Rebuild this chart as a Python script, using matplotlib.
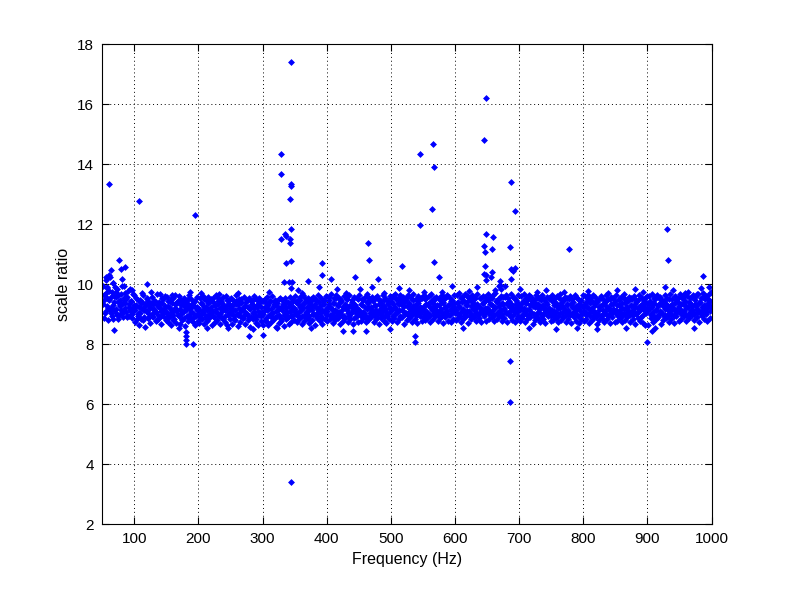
import numpy as np
import matplotlib
matplotlib.use("Agg")
import matplotlib.pyplot as plt

plt.rcParams['font.family'] = ['Liberation Sans', 'DejaVu Sans']

# ---- data ----
# dense band: frequency bins every 2 Hz (two interleaved grids), ratio values per bin
band_freq = np.arange(51, 1000, 2)
band_freq_c = np.arange(52, 1001, 2)

band_a = [
 9.35, 9.62, 9.10, 9.88, 9.21, 9.47, 9.05, 9.73, 9.30, 9.15, 9.56, 8.98, 9.41, 9.27, 9.66, 9.02, 9.38, 9.19, 9.50, 8.95, 9.33, 9.12, 9.44, 9.08, 9.25,
 9.12, 9.30, 8.95, 9.22, 9.05, 9.38, 9.18, 8.90, 9.27, 9.10, 9.42, 9.01, 9.20, 8.93, 9.33, 9.14, 9.06, 9.29, 8.97, 9.24, 9.11, 9.36, 9.03, 9.19, 9.08,
 9.05, 9.28, 8.92, 9.15, 9.36, 8.98, 9.21, 9.09, 9.40, 8.94, 9.17, 9.30, 9.02, 8.88, 9.25, 9.12, 9.34, 8.96, 9.19, 9.07, 9.31, 8.91, 9.23, 9.13, 9.00,
 9.18, 8.96, 9.33, 9.07, 9.25, 8.90, 9.14, 9.38, 9.01, 9.22, 9.10, 8.94, 9.29, 9.16, 9.04, 9.35, 8.99, 9.20, 9.09, 9.27, 8.93, 9.13, 9.31, 9.02, 9.19,
 9.03, 9.26, 8.92, 9.14, 9.32, 8.97, 9.20, 9.08, 9.37, 8.95, 9.11, 9.28, 9.00, 9.23, 8.89, 9.16, 9.34, 9.05, 9.19, 8.93, 9.30, 9.10, 8.98, 9.24, 9.06,
 9.00, 9.22, 8.88, 9.12, 9.30, 8.94, 9.17, 9.05, 9.34, 8.91, 9.09, 9.26, 8.97, 9.19, 8.86, 9.14, 9.31, 9.02, 9.21, 8.90, 9.28, 9.07, 8.95, 9.24, 9.11,
 9.16, 8.98, 9.32, 9.06, 9.25, 8.92, 9.19, 9.38, 9.03, 9.22, 9.11, 8.95, 9.29, 9.14, 9.01, 9.35, 8.99, 9.20, 9.08, 9.27, 8.93, 9.15, 9.33, 9.04, 9.18,
 9.10, 9.33, 8.96, 9.21, 9.05, 9.37, 9.13, 8.93, 9.28, 9.08, 9.40, 9.00, 9.24, 8.95, 9.31, 9.15, 9.04, 9.27, 8.99, 9.22, 9.12, 9.35, 9.02, 9.19, 9.09,
 9.14, 8.97, 9.30, 9.07, 9.25, 8.94, 9.18, 9.36, 9.02, 9.23, 9.11, 8.96, 9.29, 9.13, 9.03, 9.34, 9.00, 9.20, 9.09, 9.27, 8.95, 9.16, 9.32, 9.05, 9.21,
 9.12, 9.35, 8.98, 9.22, 9.06, 9.38, 9.15, 8.95, 9.30, 9.09, 9.41, 9.02, 9.26, 8.97, 9.33, 9.17, 9.05, 9.28, 9.00, 9.23, 9.13, 9.36, 9.04, 9.20, 9.10,
 9.16, 8.99, 9.32, 9.08, 9.27, 8.96, 9.20, 9.38, 9.04, 9.25, 9.13, 8.98, 9.31, 9.15, 9.05, 9.36, 9.02, 9.22, 9.11, 9.29, 8.97, 9.18, 9.34, 9.07, 9.23,
 9.14, 9.36, 8.99, 9.23, 9.07, 9.39, 9.16, 8.96, 9.31, 9.10, 9.42, 9.03, 9.27, 8.98, 9.34, 9.18, 9.06, 9.29, 9.01, 9.24, 9.14, 9.37, 9.05, 9.21, 9.11,
 9.17, 9.00, 9.33, 9.09, 9.28, 8.97, 9.21, 9.39, 9.05, 9.26, 9.14, 8.99, 9.32, 9.16, 9.06, 9.37, 9.03, 9.23, 9.12, 9.30, 8.98, 9.19, 9.35, 9.08, 9.24,
 9.13, 9.34, 8.97, 9.21, 9.05, 9.37, 9.14, 8.94, 9.29, 9.08, 9.40, 9.01, 9.25, 8.96, 9.32, 9.16, 9.04, 9.27, 8.99, 9.22, 9.12, 9.35, 9.03, 9.19, 9.09,
 9.15, 8.98, 9.31, 9.07, 9.26, 8.95, 9.19, 9.37, 9.03, 9.24, 9.12, 8.97, 9.30, 9.14, 9.04, 9.35, 9.01, 9.21, 9.10, 9.28, 8.96, 9.17, 9.33, 9.06, 9.22,
 9.11, 9.33, 8.96, 9.20, 9.04, 9.36, 9.13, 8.93, 9.28, 9.07, 9.39, 9.00, 9.24, 8.95, 9.31, 9.15, 9.03, 9.26, 8.98, 9.21, 9.11, 9.34, 9.02, 9.18, 9.08,
 9.14, 8.97, 9.30, 9.06, 9.25, 8.94, 9.18, 9.36, 9.02, 9.23, 9.11, 8.96, 9.29, 9.13, 9.03, 9.34, 9.00, 9.20, 9.09, 9.27, 8.95, 9.16, 9.32, 9.05, 9.21,
 9.12, 9.35, 8.98, 9.22, 9.06, 9.38, 9.15, 8.95, 9.30, 9.09, 9.41, 9.02, 9.26, 8.97, 9.33, 9.17, 9.05, 9.28, 9.00, 9.23, 9.13, 9.36, 9.04, 9.20, 9.10,
 9.18, 9.01, 9.34, 9.10, 9.29, 8.98, 9.22, 9.40, 9.06, 9.27, 9.15, 9.00, 9.33, 9.17, 9.07, 9.38, 9.04, 9.24, 9.13, 9.31, 8.99, 9.20, 9.36, 9.09, 9.25,
]

band_b = [
 9.95, 8.88, 10.12, 9.52, 8.80, 9.78, 9.20, 8.92, 10.05, 9.60, 9.02, 9.85, 8.85, 9.48, 9.13, 9.92, 8.90, 9.70, 9.06, 9.58, 8.95, 9.82, 9.17, 8.87, 9.65,
 8.72, 9.55, 9.00, 8.65, 9.48, 8.82, 9.62, 9.15, 8.58, 9.50, 8.86, 9.35, 8.70, 9.58, 8.90, 9.44, 8.78, 9.66, 8.84, 9.40, 8.68, 9.52, 8.92, 9.60, 8.80,
 9.58, 8.75, 9.45, 8.62, 9.52, 8.80, 9.65, 8.70, 9.38, 9.60, 8.66, 9.48, 8.82, 9.55, 8.60, 9.42, 8.76, 9.62, 8.85, 9.50, 8.72, 9.44, 8.64, 9.57, 8.78,
 8.70, 9.54, 8.83, 9.61, 8.66, 9.46, 8.78, 9.58, 8.88, 9.50, 8.62, 9.40, 8.74, 9.64, 8.80, 9.52, 8.68, 9.45, 8.86, 9.56, 8.72, 9.60, 8.64, 9.48, 8.82,
 9.55, 8.68, 9.44, 8.80, 9.62, 8.60, 9.50, 8.75, 9.40, 8.86, 9.58, 8.66, 9.47, 8.79, 9.53, 8.58, 9.42, 8.84, 9.60, 8.70, 9.46, 8.63, 9.52, 8.77, 9.43,
 8.65, 9.50, 8.78, 9.58, 8.62, 9.44, 8.72, 9.60, 8.82, 9.48, 8.58, 9.38, 8.70, 9.55, 8.76, 9.46, 8.60, 9.52, 8.84, 9.40, 8.68, 9.57, 8.74, 9.45, 8.80,
 9.60, 8.74, 9.48, 8.82, 9.56, 8.68, 9.62, 8.78, 9.44, 8.86, 9.54, 8.70, 9.50, 8.80, 9.58, 8.64, 9.46, 8.88, 9.64, 8.76, 9.52, 8.66, 9.42, 8.84, 9.59,
 8.76, 9.58, 8.84, 9.66, 8.70, 9.52, 8.80, 9.62, 8.88, 9.55, 8.66, 9.46, 8.78, 9.60, 8.86, 9.50, 8.72, 9.64, 8.82, 9.48, 8.68, 9.57, 8.90, 9.53, 8.74,
 9.62, 8.78, 9.50, 8.86, 9.58, 8.72, 9.66, 8.80, 9.46, 8.90, 9.56, 8.74, 9.52, 8.84, 9.60, 8.68, 9.48, 8.88, 9.63, 8.76, 9.54, 8.70, 9.44, 8.82, 9.61,
 8.78, 9.60, 8.86, 9.68, 8.72, 9.55, 8.82, 9.64, 8.90, 9.57, 8.68, 9.48, 8.80, 9.62, 8.88, 9.52, 8.74, 9.66, 8.84, 9.50, 8.70, 9.59, 8.92, 9.54, 8.76,
 9.64, 8.80, 9.52, 8.88, 9.60, 8.74, 9.68, 8.82, 9.48, 8.92, 9.58, 8.76, 9.54, 8.86, 9.62, 8.70, 9.50, 8.90, 9.65, 8.78, 9.56, 8.72, 9.46, 8.84, 9.63,
 8.80, 9.62, 8.88, 9.70, 8.74, 9.57, 8.84, 9.66, 8.92, 9.59, 8.70, 9.50, 8.82, 9.64, 8.90, 9.54, 8.76, 9.68, 8.86, 9.52, 8.72, 9.61, 8.94, 9.56, 8.78,
 9.66, 8.82, 9.54, 8.90, 9.62, 8.76, 9.70, 8.84, 9.50, 8.94, 9.60, 8.78, 9.56, 8.88, 9.64, 8.72, 9.52, 8.92, 9.67, 8.80, 9.58, 8.74, 9.48, 8.86, 9.65,
 8.78, 9.60, 8.86, 9.66, 8.72, 9.55, 8.82, 9.63, 8.90, 9.57, 8.68, 9.48, 8.80, 9.62, 8.88, 9.52, 8.74, 9.65, 8.84, 9.50, 8.70, 9.58, 8.92, 9.54, 8.76,
 9.63, 8.79, 9.51, 8.87, 9.59, 8.73, 9.67, 8.81, 9.47, 8.91, 9.57, 8.75, 9.53, 8.85, 9.61, 8.69, 9.49, 8.89, 9.64, 8.77, 9.55, 8.71, 9.45, 8.83, 9.62,
 8.77, 9.59, 8.85, 9.65, 8.71, 9.54, 8.81, 9.62, 8.89, 9.56, 8.67, 9.47, 8.79, 9.61, 8.87, 9.51, 8.73, 9.64, 8.83, 9.49, 8.69, 9.57, 8.91, 9.53, 8.75,
 9.62, 8.78, 9.50, 8.86, 9.58, 8.72, 9.66, 8.80, 9.46, 8.90, 9.56, 8.74, 9.52, 8.84, 9.60, 8.68, 9.48, 8.88, 9.63, 8.76, 9.54, 8.70, 9.44, 8.64, 9.61,
 8.62, 9.60, 8.86, 9.68, 8.72, 9.55, 8.82, 9.64, 8.90, 9.57, 8.68, 9.48, 8.80, 9.62, 8.88, 9.52, 8.74, 9.66, 8.84, 9.50, 8.70, 9.59, 8.92, 9.54, 8.76,
 9.68, 8.84, 9.56, 8.92, 9.64, 8.78, 9.72, 8.86, 9.52, 8.96, 9.62, 8.80, 9.58, 8.90, 9.66, 8.74, 9.54, 8.94, 9.70, 8.82, 9.60, 8.76, 9.50, 8.88, 9.74,
]

band_c = [
 9.48, 9.05, 9.71, 9.26, 10.30, 9.12, 9.58, 8.83, 9.39, 9.90, 9.17, 9.64, 8.97, 9.29, 10.18, 9.08, 9.54, 9.36, 8.91, 9.76, 9.22, 9.45, 9.01, 9.68, 9.31,
 9.26, 8.84, 9.47, 9.03, 9.19, 9.41, 8.79, 9.32, 9.09, 9.53, 8.88, 9.24, 9.37, 8.99, 9.16, 9.44, 9.06, 8.81, 9.35, 9.20, 8.94, 9.49, 9.13, 9.28, 8.87,
 9.43, 8.89, 9.21, 9.06, 9.52, 8.85, 9.34, 9.15, 8.97, 9.46, 9.02, 8.80, 9.38, 9.11, 9.27, 8.92, 9.50, 9.18, 8.86, 9.33, 9.04, 9.42, 8.95, 9.25, 9.14,
 8.91, 9.37, 9.10, 9.49, 8.98, 9.23, 8.84, 9.41, 9.17, 9.03, 9.52, 8.89, 9.30, 9.08, 9.45, 8.94, 9.19, 9.36, 8.82, 9.28, 9.12, 9.47, 8.96, 9.34, 9.05,
 9.29, 9.12, 8.85, 9.44, 9.01, 9.35, 8.93, 9.50, 9.16, 8.87, 9.26, 9.40, 8.99, 9.20, 9.47, 8.90, 9.33, 9.07, 9.53, 8.83, 9.24, 9.38, 9.02, 8.95, 9.43,
 9.09, 8.81, 9.36, 9.18, 8.96, 9.45, 9.04, 8.87, 9.27, 9.40, 8.92, 9.13, 9.50, 8.84, 9.22, 9.32, 8.98, 9.41, 9.07, 8.89, 9.34, 9.15, 8.94, 9.46, 9.00,
 9.39, 9.03, 8.90, 9.47, 9.14, 9.30, 8.95, 9.52, 9.08, 8.86, 9.36, 9.21, 9.44, 8.99, 9.26, 9.50, 8.92, 9.17, 9.41, 9.05, 8.88, 9.33, 9.48, 9.11, 8.97,
 9.24, 9.46, 8.93, 9.16, 9.37, 8.88, 9.53, 9.06, 9.29, 8.97, 9.43, 9.12, 8.90, 9.35, 9.19, 9.49, 8.95, 9.27, 9.04, 9.40, 8.86, 9.31, 9.18, 9.51, 9.00,
 8.98, 9.32, 9.48, 9.05, 8.91, 9.39, 9.22, 9.54, 8.94, 9.15, 9.44, 9.02, 9.28, 8.89, 9.50, 9.10, 9.36, 8.96, 9.25, 9.46, 9.07, 8.92, 9.38, 9.19, 9.52,
 9.41, 8.95, 9.20, 9.51, 9.08, 9.33, 8.90, 9.46, 9.14, 9.27, 8.99, 9.55, 9.03, 9.38, 9.17, 8.93, 9.48, 9.11, 9.30, 8.97, 9.44, 9.06, 9.24, 9.52, 8.91,
 9.27, 9.50, 9.02, 9.35, 8.94, 9.45, 9.12, 9.23, 9.54, 8.98, 9.31, 9.07, 9.47, 9.16, 8.92, 9.40, 9.21, 9.56, 9.01, 9.29, 8.96, 9.43, 9.10, 9.37, 9.05,
 9.05, 9.39, 9.26, 8.95, 9.52, 9.13, 9.44, 9.00, 9.30, 9.57, 9.09, 8.93, 9.41, 9.18, 9.49, 9.03, 9.34, 8.97, 9.25, 9.53, 9.11, 9.38, 8.99, 9.46, 9.20,
 9.48, 9.08, 9.33, 9.55, 8.96, 9.24, 9.42, 9.04, 9.51, 9.15, 8.94, 9.37, 9.20, 9.58, 9.02, 9.29, 9.45, 8.98, 9.35, 9.12, 9.53, 9.06, 9.40, 8.95, 9.28,
 9.22, 8.93, 9.45, 9.10, 9.36, 8.97, 9.50, 9.17, 9.03, 9.42, 9.26, 8.90, 9.34, 9.53, 9.07, 9.19, 9.47, 8.95, 9.31, 9.12, 9.40, 9.00, 9.55, 9.15, 8.92,
 9.44, 9.11, 8.95, 9.38, 9.21, 9.52, 9.02, 9.30, 8.91, 9.46, 9.14, 9.35, 9.05, 9.49, 8.97, 9.25, 9.41, 9.08, 9.56, 9.18, 8.93, 9.33, 9.47, 9.00, 9.27,
 9.06, 9.40, 9.23, 9.51, 8.94, 9.16, 9.43, 9.03, 9.32, 8.90, 9.48, 9.12, 9.27, 9.54, 8.98, 9.37, 9.09, 9.45, 8.95, 9.20, 9.50, 9.04, 9.34, 9.14, 9.42,
 9.31, 8.96, 9.47, 9.13, 9.36, 9.01, 9.53, 9.19, 8.92, 9.44, 9.08, 9.28, 9.50, 8.97, 9.24, 9.39, 9.05, 9.46, 9.15, 8.90, 9.34, 9.22, 9.52, 9.02, 9.37,
 9.18, 9.43, 9.00, 9.33, 8.94, 9.49, 9.12, 9.26, 9.55, 9.04, 9.38, 8.97, 9.45, 9.16, 9.30, 8.92, 9.51, 9.09, 9.35, 9.21, 8.95, 9.47, 9.11, 9.40, 9.27,
 9.35, 9.52, 9.08, 9.44, 9.20, 9.61, 8.97, 9.38, 9.15, 9.56, 9.03, 9.47, 9.26, 9.68, 9.10, 9.41, 8.99, 9.58, 9.23, 9.49, 9.06, 9.63, 9.31, 9.45, 9.70,
]

# sparse fringe points just outside the band
fringe_freq = [58, 66, 72, 84, 96, 112, 126, 140, 158, 170, 186, 204, 214, 232, 246,
               262, 285, 310, 322, 355, 362, 376, 388, 416, 430, 452, 470, 490, 498,
               512, 528, 552, 580, 596, 612, 622, 634, 662, 678, 702, 716, 728, 742,
               758, 770, 790, 808, 822, 838, 852, 866, 880, 893, 912, 940, 958, 972,
               984, 996]
fringe_ratio = [9.90, 10.05, 9.75, 9.95, 9.80, 9.70, 9.72, 9.68, 9.62, 8.55, 9.75, 9.70,
                8.55, 9.66, 8.52, 9.70, 8.50, 9.72, 8.55, 9.80, 9.70, 8.55, 9.90, 9.82,
                9.70, 9.85, 9.90, 9.70, 8.50, 9.86, 9.80, 9.75, 9.72, 9.92, 8.55, 9.78,
                9.90, 9.80, 9.92, 9.85, 8.52, 9.72, 9.80, 8.50, 9.75, 8.55, 9.78, 8.50,
                9.70, 9.80, 8.55, 9.85, 9.72, 8.55, 9.80, 9.70, 8.55, 9.86, 9.90]

# isolated outliers
outlier_freq = [60, 108, 194, 343.7, 329, 329, 344, 344, 343, 344, 329, 335, 337, 342,
                343, 344, 336, 334, 341, 346, 344, 393, 393, 407, 370, 76, 79, 86, 64,
                55, 58, 62, 120, 649, 645.5, 566, 546, 567.6, 687, 564.5, 693.7, 546,
                648.6, 659.5, 645.5, 686, 464.7, 466.2, 647, 657.4, 567.6, 517.8, 575.6,
                443.3, 480, 687, 690, 693, 687, 670, 670, 777.5, 930, 932, 987.5, 928,
                685.7, 685.7, 343.7, 180.5, 180.5, 180.5, 180.5, 190.8, 279, 300, 67.8,
                538, 538, 425, 441, 461, 899, 907.6, 647, 648, 645, 657, 656, 648, 668, 672]
outlier_ratio = [13.35, 12.76, 12.30, 17.40, 14.32, 13.66, 13.33, 13.27, 12.82, 11.82,
                 11.49, 11.67, 11.61, 11.49, 11.36, 10.77, 10.69, 10.07, 10.07, 10.08,
                 9.87, 10.69, 10.30, 10.16, 10.10, 10.79, 10.49, 10.56, 10.46, 10.25,
                 10.20, 10.22, 9.99, 16.20, 14.79, 14.66, 14.32, 13.89, 13.39, 12.49,
                 12.42, 11.96, 11.66, 11.56, 11.26, 11.22, 11.36, 10.79, 11.06, 11.16,
                 10.72, 10.59, 10.22, 10.22, 10.16, 10.50, 10.45, 10.55, 10.17, 10.10,
                 9.97, 11.16, 11.82, 10.79, 10.26, 9.91, 7.43, 6.07, 3.40, 8.41, 8.27,
                 8.15, 8.00, 7.99, 8.26, 8.29, 8.47, 8.27, 8.07, 8.42, 8.45, 8.45, 8.06,
                 8.42, 10.60, 10.30, 10.35, 10.40, 10.25, 10.15, 9.95, 9.85]

x_ticks = [100, 200, 300, 400, 500, 600, 700, 800, 900, 1000]
y_ticks = [2, 4, 6, 8, 10, 12, 14, 16, 18]

# ---- figure ----
fig = plt.figure(figsize=(7.87, 5.89), dpi=100)
ax = fig.add_axes([102.3 / 787, 65 / 589, 609.2 / 787, 480 / 589])

mk = dict(linestyle='none', marker='D', markersize=3.0, color='#0000ff',
          markeredgewidth=0.5, markeredgecolor='#0000ff')
ax.plot(band_freq, band_a, **mk)
ax.plot(band_freq, band_b, **mk)
ax.plot(band_freq_c, band_c, **mk)
ax.plot(fringe_freq, fringe_ratio, **mk)
ax.plot(outlier_freq, outlier_ratio, **mk)

ax.set_xlim(50, 1000)
ax.set_ylim(2, 18)
ax.set_xticks(x_ticks)
ax.set_yticks(y_ticks)
ax.tick_params(direction='in', length=5, width=0.8, top=True, right=True,
               labelsize=11, colors='black', pad=6)
ax.grid(True, color='black', linestyle=(0, (1, 3)), linewidth=0.7)
for s in ax.spines.values():
    s.set_linewidth(0.8)
ax.set_xlabel('Frequency (Hz)', fontsize=11.5)
ax.set_ylabel('scale ratio', fontsize=11.5)

fig.savefig('out.png', dpi=100)
